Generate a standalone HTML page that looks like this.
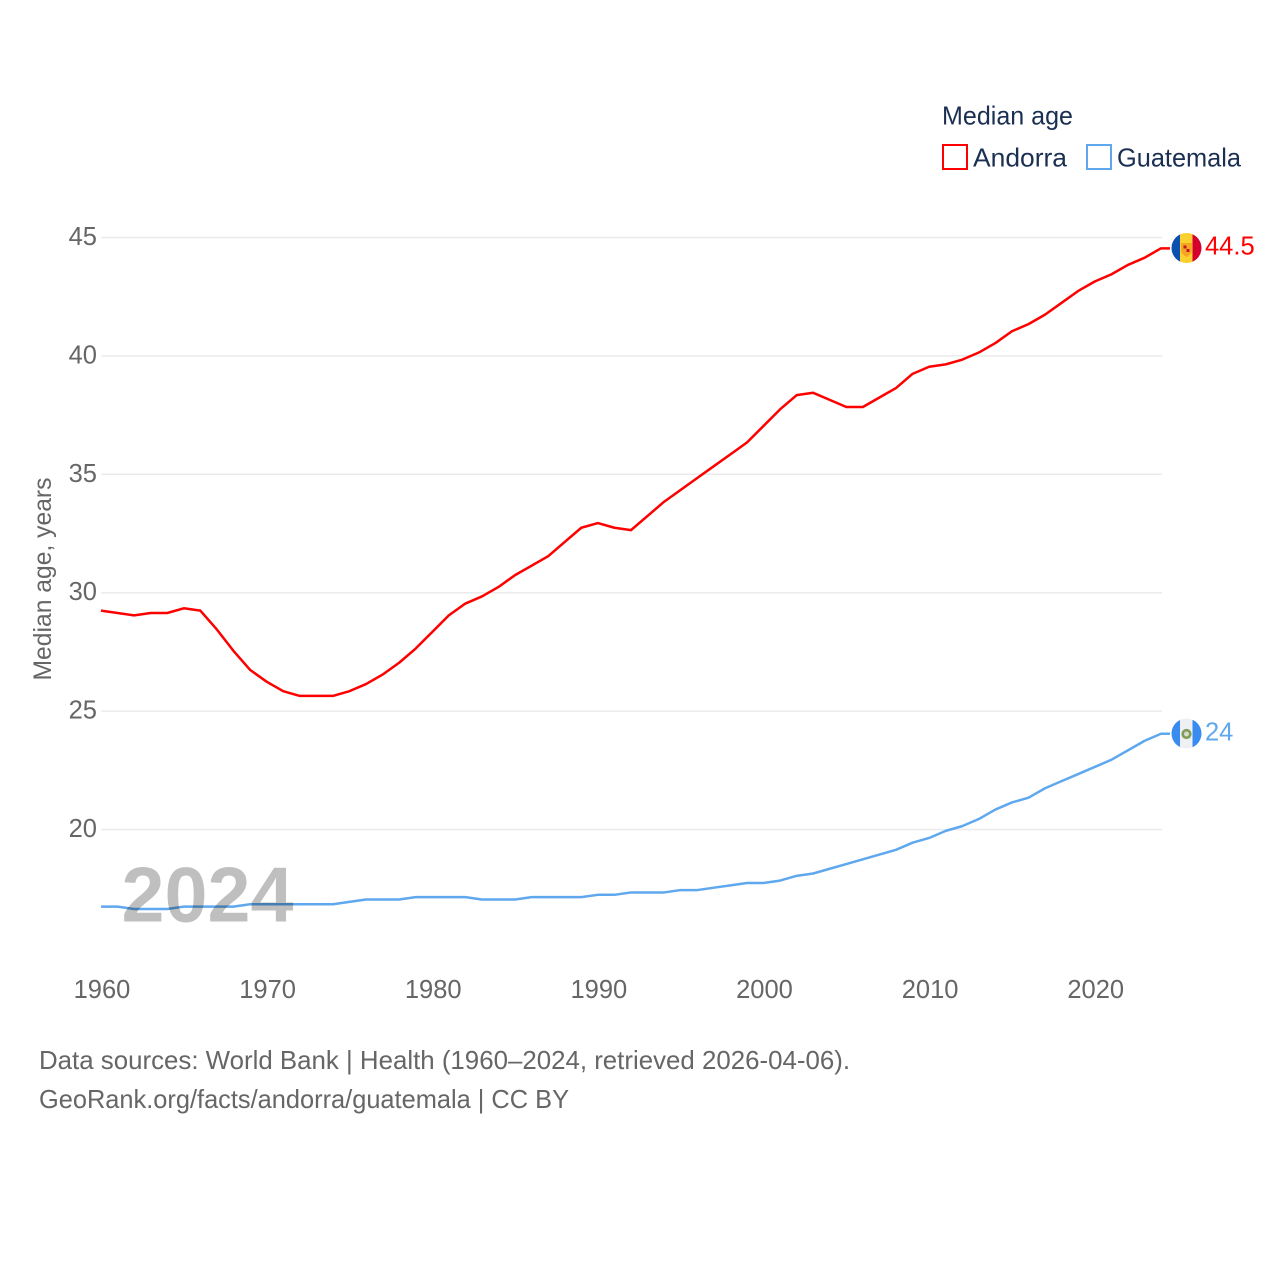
<!DOCTYPE html>
<html lang="en">
<head>
<meta charset="utf-8">
<title>Median age: Andorra and Guatemala</title>
<style>
html,body{margin:0;padding:0;background:#fff;width:1280px;height:1280px;overflow:hidden}
svg{display:block}
text{font-family:"Liberation Sans",sans-serif}
.tick{font-size:25.5px;fill:#666}
.foot{font-size:26px;fill:#666}
.leg{font-size:26px;fill:#1b2f52}
</style>
</head>
<body>
<svg id="chart" xmlns="http://www.w3.org/2000/svg" width="1280" height="1280" viewBox="0 0 1280 1280">
  <rect x="0" y="0" width="1280" height="1280" fill="#fff"/>
  <g id="grid"></g>
  <g id="yticks"></g>
  <g id="xticks"></g>
  <text transform="translate(51,579) rotate(-90)" text-anchor="middle" font-size="25" fill="#666" textLength="203" lengthAdjust="spacingAndGlyphs">Median age, years</text>
  <g id="series"></g>
  <text x="121.5" y="921.5" font-size="78" font-weight="700" fill="#000" fill-opacity="0.25" textLength="172" lengthAdjust="spacingAndGlyphs">2024</text>

  <text class="leg" x="942" y="124.5" textLength="131" lengthAdjust="spacingAndGlyphs">Median age</text>
  <rect x="943" y="145" width="24" height="24" fill="none" stroke="#ff0000" stroke-width="2"/>
  <text class="leg" x="973" y="166.5" textLength="94" lengthAdjust="spacingAndGlyphs">Andorra</text>
  <rect x="1087" y="145" width="24" height="24" fill="none" stroke="#5fa8ee" stroke-width="2"/>
  <text class="leg" x="1117" y="166.5" textLength="124" lengthAdjust="spacingAndGlyphs">Guatemala</text>

  <g id="flag-andorra">
    <clipPath id="clip-ad"><circle cx="1186.5" cy="248" r="15"/></clipPath>
    <g clip-path="url(#clip-ad)">
      <rect x="1171" y="232" width="10" height="32" fill="#0a50b0"/>
      <rect x="1180" y="232" width="13" height="32" fill="#fcd02f"/>
      <rect x="1192.5" y="232" width="10" height="32" fill="#d6002f"/>
    </g>
    <path d="M1181 243h11v7q0 4-5.500 7q-5.500-3-5.500-7z" fill="#f5a623"/>
    <rect x="1183.500" y="245.500" width="3" height="3" fill="#c8102e"/>
    <rect x="1186.500" y="249" width="3" height="3" fill="#c8102e"/>
  </g>
  <g id="flag-guatemala">
    <clipPath id="clip-gt"><circle cx="1186.5" cy="733.5" r="15"/></clipPath>
    <g clip-path="url(#clip-gt)">
      <rect x="1171" y="718" width="10" height="32" fill="#3a8bf0"/>
      <rect x="1180" y="718" width="13" height="32" fill="#eef0f2"/>
      <rect x="1192.5" y="718" width="10" height="32" fill="#3a8bf0"/>
    </g>
    <circle cx="1186.5" cy="734" r="3.8" fill="#d8dcd0" stroke="#7f9c58" stroke-width="2.6"/>
  </g>

  <text class="foot" x="39" y="1069" textLength="811" lengthAdjust="spacingAndGlyphs">Data sources: World Bank | Health (1960–2024, retrieved 2026-04-06).</text>
  <text class="foot" x="39" y="1108" textLength="530" lengthAdjust="spacingAndGlyphs">GeoRank.org/facts/andorra/guatemala | CC BY</text>
</svg>
<script>
const startYear = 1960;
const yTickValues = [20, 25, 30, 35, 40, 45];
const xTickValues = [1960, 1970, 1980, 1990, 2000, 2010, 2020];
const andorraValues = [29.2,29.1,29.0,29.1,29.1,29.3,29.2,28.4,27.5,26.7,26.2,25.8,25.6,25.6,25.6,25.8,26.1,26.5,27.0,27.6,28.3,29.0,29.5,29.8,30.2,30.7,31.1,31.5,32.1,32.7,32.9,32.7,32.6,33.2,33.8,34.3,34.8,35.3,35.8,36.3,37.0,37.7,38.3,38.4,38.1,37.8,37.8,38.2,38.6,39.2,39.5,39.6,39.8,40.1,40.5,41.0,41.3,41.7,42.2,42.7,43.1,43.4,43.8,44.1,44.5];
const guatemalaValues = [16.7,16.7,16.6,16.6,16.6,16.7,16.7,16.7,16.7,16.8,16.8,16.8,16.8,16.8,16.8,16.9,17.0,17.0,17.0,17.1,17.1,17.1,17.1,17.0,17.0,17.0,17.1,17.1,17.1,17.1,17.2,17.2,17.3,17.3,17.3,17.4,17.4,17.5,17.6,17.7,17.7,17.8,18.0,18.1,18.3,18.5,18.7,18.9,19.1,19.4,19.6,19.9,20.1,20.4,20.8,21.1,21.3,21.7,22.0,22.3,22.6,22.9,23.3,23.7,24.0];

const NS = 'http://www.w3.org/2000/svg';
function xScale(year) { return 102 + (year - 1960) * (1162 - 102) / 64; }
function yScale(v) { return 829.5 - (v - 20) * (829.5 - 237.5) / 25; }
function lineX(year) { return xScale(year) - 1; }
function lineY(v) { return yScale(v) - 1; }
function make(tag, attrs, parent, txt) {
  const el = document.createElementNS(NS, tag);
  for (const k in attrs) el.setAttribute(k, attrs[k]);
  if (txt !== undefined) el.textContent = txt;
  parent.appendChild(el);
  return el;
}
const grid = document.getElementById('grid');
const yticks = document.getElementById('yticks');
const xticks = document.getElementById('xticks');
const seriesGroup = document.getElementById('series');
const chart = document.getElementById('chart');

yTickValues.forEach(function (v) {
  const line = make('line', {x1: 101, x2: 1162, y1: yScale(v), y2: yScale(v), stroke: '#ebebeb', 'stroke-width': 1.5}, grid);
  
  
  const label = make('text', {x: 97, y: yScale(v) + 7.5, 'text-anchor': 'end', class: 'tick'}, yticks, String(v));
  
  
});
xTickValues.forEach(function (year) {
  const label = make('text', {x: xScale(year), y: 998, 'text-anchor': 'middle', class: 'tick'}, xticks, String(year));
  
  
});
function pathFor(values) {
  const d = values.map(function (v, i) {
    return (i ? 'L' : 'M') + lineX(startYear + i).toFixed(2) + ' ' + lineY(v).toFixed(2);
  }).join('');
  return d + 'L1170 ' + lineY(values[values.length - 1]).toFixed(2);
}
const lineAndorra = make('path', {d: pathFor(andorraValues), fill: 'none', stroke: '#ff0000', 'stroke-width': 2.5, 'stroke-linejoin': 'round'}, seriesGroup);


const lineGuatemala = make('path', {d: pathFor(guatemalaValues), fill: 'none', stroke: '#5fa8ee', 'stroke-width': 2.5, 'stroke-linejoin': 'round'}, seriesGroup);



const lastA = andorraValues[andorraValues.length - 1];
const lastG = guatemalaValues[guatemalaValues.length - 1];
const endA = make('text', {x: 1205, y: yScale(lastA) + 5, 'font-size': 25.5, fill: '#ff0000'}, chart, String(lastA));


const endG = make('text', {x: 1205, y: yScale(lastG) + 5.500, 'font-size': 25.5, fill: '#5fa8ee'}, chart, String(lastG));


</script>
</body>
</html>
